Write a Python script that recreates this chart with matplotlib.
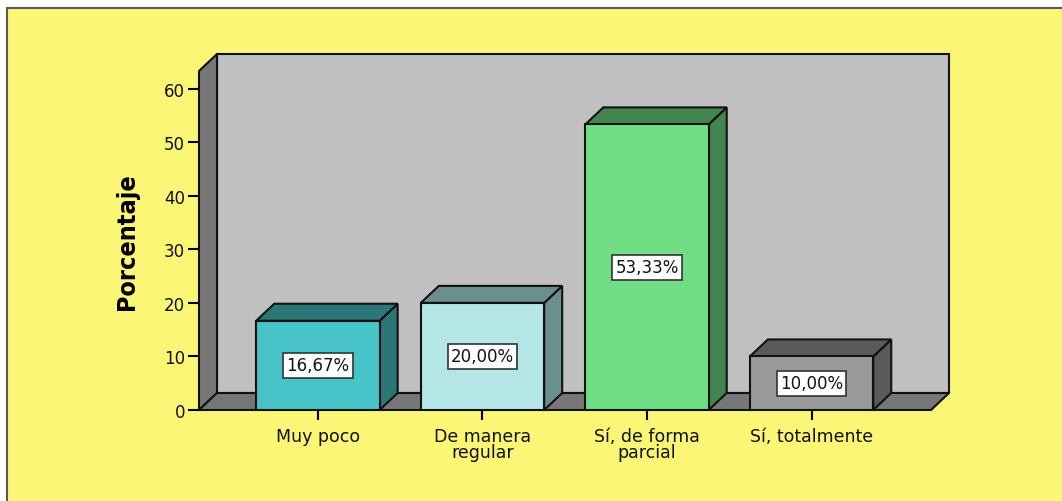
import matplotlib.pyplot as plt
from matplotlib.patches import Polygon, Rectangle

plt.rcParams["font.family"] = ["DejaVu Sans"]

# datos
categorias = ["Muy poco", "De manera\nregular", "Sí, de forma\nparcial", "Sí, totalmente"]
porcentajes = [16.67, 20.00, 53.33, 10.00]
etiquetas = ["16,67%", "20,00%", "53,33%", "10,00%"]
yticks = [0, 10, 20, 30, 40, 50, 60]

# colores: cara frontal / cara lateral y superior
col_frente = ["#48C3C8", "#B4E6E8", "#70DD85", "#999999"]
col_lado = ["#2B7778", "#6B8E8E", "#428550", "#5A5A5A"]

W, H = 1062, 502
fig = plt.figure(figsize=(W / 100, H / 100), dpi=100, facecolor="white")

# marco amarillo
fig.patches.append(Rectangle((7 / W, -0.01), 1.0, 1 - 9 / H + 0.01,
                             transform=fig.transFigure, fc="#FBF675",
                             ec="#5A5A5A", lw=1.5, zorder=-5))

ax = fig.add_axes([199 / W, 91 / H, (931 - 199) / W, (411 - 72) / H])
ax.set_zorder(2)
ax.patch.set_visible(False)
xmin, xmax = -0.723, 3.726
ymin, ymax = 0, 63.3
ax.set_xlim(xmin, xmax)
ax.set_ylim(ymin, ymax)

# profundidad 3D en unidades de datos
dx = 18 / 164.5
dy = 17 / ((411 - 72) / ymax)

ec = "#111111"
lw = 1.5

# paredes
pared_fondo = Polygon([(xmin + dx, dy), (xmax + dx, dy), (xmax + dx, ymax + dy), (xmin + dx, ymax + dy)],
                      closed=True, fc="#C0C0C0", ec=ec, lw=lw, clip_on=False, zorder=1)
pared_izq = Polygon([(xmin, 0), (xmin + dx, dy), (xmin + dx, ymax + dy), (xmin, ymax)],
                    closed=True, fc="#777777", ec=ec, lw=lw, clip_on=False, zorder=1)
suelo = Polygon([(xmin, 0), (xmax, 0), (xmax + dx, dy), (xmin + dx, dy)],
                closed=True, fc="#777777", ec=ec, lw=lw, clip_on=False, zorder=1)
for p in (pared_fondo, pared_izq, suelo):
    ax.add_patch(p)

ancho = 0.75
xs = list(range(len(categorias)))
ax.bar(xs, porcentajes, width=ancho, color=col_frente, edgecolor=ec, linewidth=lw, zorder=4)

for x, h, cl in zip(xs, porcentajes, col_lado):
    x0, x1 = x - ancho / 2, x + ancho / 2
    lado = Polygon([(x1, 0), (x1 + dx, dy), (x1 + dx, h + dy), (x1, h)],
                   closed=True, fc=cl, ec=ec, lw=lw, clip_on=False, zorder=3)
    techo = Polygon([(x0, h), (x1, h), (x1 + dx, h + dy), (x0 + dx, h + dy)],
                    closed=True, fc=cl, ec=ec, lw=lw, clip_on=False, zorder=3)
    ax.add_patch(lado)
    ax.add_patch(techo)

for x, h, t in zip(xs, porcentajes, etiquetas):
    ax.text(x, h / 2, t, ha="center", va="center", fontsize=12, color="#111111", zorder=6,
            bbox=dict(boxstyle="square,pad=0.2", fc="white", ec="#333333", lw=1.2))

for s in ax.spines.values():
    s.set_visible(False)

ax.set_yticks(yticks)
ax.set_xticks(xs)
ax.set_xticklabels(categorias, fontsize=12.5, color="#111111", linespacing=0.85)
ax.tick_params(axis="y", length=8, width=1.5, labelsize=12, labelcolor="#111111", pad=2)
ax.tick_params(axis="x", length=7, width=1.5, pad=5)

ax.set_ylabel("Porcentaje", fontsize=18, fontweight="bold", fontstretch="condensed",
              family=["DejaVu Sans"], labelpad=18)

fig.savefig("out.png", dpi=100)
